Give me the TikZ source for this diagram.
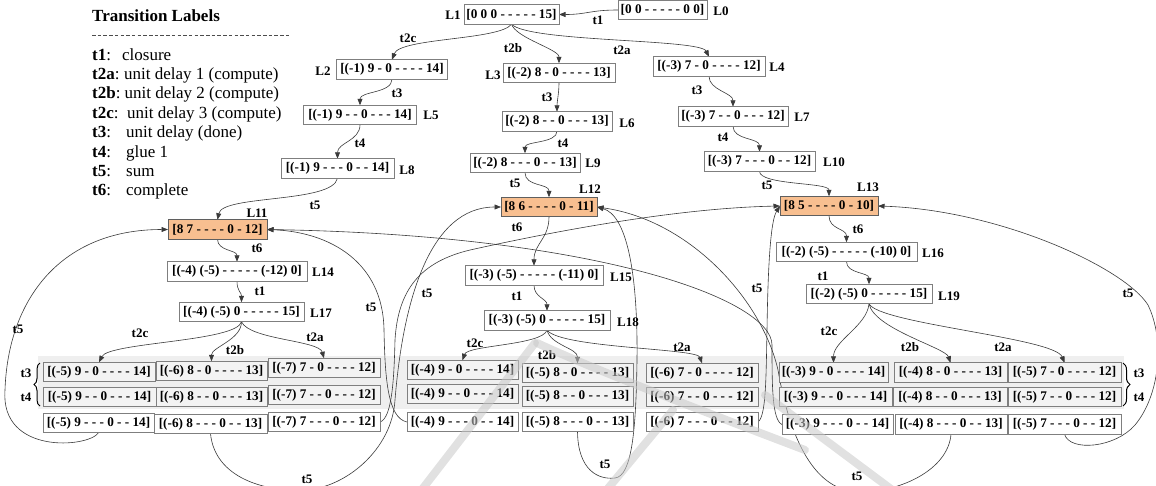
\documentclass[tikz,border=0pt]{standalone}
\usepackage{fontspec}
\setmainfont{Liberation Serif}
\usetikzlibrary{arrows.meta,decorations.pathreplacing}

\definecolor{boxline}{HTML}{7F7F7F}
\definecolor{peach}{HTML}{F8BF90}
\definecolor{bandgray}{HTML}{EFEFEF}
\definecolor{rowgray}{HTML}{F3F3F3}
\definecolor{wire}{HTML}{3A3A3A}
\definecolor{logo}{HTML}{C8C8C8}

\newcommand\boxfnt{\bfseries\fontsize{13.2}{15}\selectfont}
\newcommand\tagfnt{\bfseries\fontsize{13}{15}\selectfont}
\newcommand\legfnt{\fontsize{17}{20}\selectfont}
% state vectors of the three unit-delay stages
\newcommand\stA[3]{[(#1) #2 - 0 - - - - #3]}
\newcommand\stB[3]{[(#1) #2 - - 0 - - - #3]}
\newcommand\stC[3]{[(#1) #2 - - - 0 - - #3]}

\pgfdeclarelayer{back}
\pgfdeclarelayer{mid}
\pgfsetlayers{back,mid,main}

\begin{document}
\begin{tikzpicture}[x=1pt,y=-1pt,
  state/.style={draw=boxline,line width=0.9pt,fill=white,minimum height=19.5pt,
                inner sep=0pt,outer sep=0pt,font=\boxfnt},
  hot/.style={state,fill=peach,draw=boxline!75!black},
  inner/.style={state,fill=rowgray},
  tag/.style={font=\tagfnt,inner sep=0pt},
  wire/.style={draw=wire,line width=0.6pt,-{Triangle[length=6.5pt,width=5pt]}},
  legk/.style={anchor=base west,inner sep=0pt,font=\legfnt},
]
\useasboundingbox (0,0) rectangle (1156,485);

% ---------------- legend ----------------
\node[anchor=base west,inner sep=0pt,font=\bfseries\fontsize{17}{20}\selectfont] (ttl) at (92,21) {Transition Labels};
\draw[black!70,line width=0.9pt,dash pattern=on 3.5pt off 2.2pt] (92,35) -- (291,35);
\node[legk] (k1) at (92,60)    {\textbf{t1}:};   \node[legk] (d1) at (122,60)    {closure};
\node[legk] (k2) at (92,79.4)  {\textbf{t2a}:};  \node[legk] (d2) at (124,79.4)  {unit delay 1 (compute)};
\node[legk] (k3) at (92,98.8)  {\textbf{t2b}:};  \node[legk] (d3) at (124.5,98.8) {unit delay 2 (compute)};
\node[legk] (k4) at (92,118.2) {\textbf{t2c}:};  \node[legk] (d4) at (127,118.2) {unit delay 3 (compute)};
\node[legk] (k5) at (92,137.6) {\textbf{t3}:};   \node[legk] (d5) at (126,137.6) {unit delay (done)};
\node[legk] (k6) at (92,157)   {\textbf{t4}:};   \node[legk] (d6) at (126,157)   {glue 1};
\node[legk] (k7) at (92,176.4) {\textbf{t5}:};   \node[legk] (d7) at (126,176.4) {sum};
\node[legk] (k8) at (92,195.8) {\textbf{t6}:};   \node[legk] (d8) at (126,195.8) {complete};

% ---------------- shaded band of the unit-delay stages ----------------
\begin{pgfonlayer}{back}
  \fill[bandgray] (38,356) rectangle (1124,409);
\end{pgfonlayer}

% ---------------- states ----------------
\node[state,minimum width=89]  (L0)  at (662.5,10)   {[0 0 - - - - - 0 0]};
\node[state,minimum width=95]  (L1)  at (511.5,14.5) {[0 0 0 - - - - - 15]};
\node[state,minimum width=111] (L2)  at (392,69.5)   {\stA{-1}{9}{14}};
\node[state,minimum width=112] (L3)  at (559,73)     {\stA{-2}{8}{13}};
\node[state,minimum width=112] (L4)  at (709,66.5)   {\stA{-3}{7}{12}};
\node[state,minimum width=113] (L5)  at (360,115)    {\stB{-1}{9}{14}};
\node[state,minimum width=110] (L6)  at (557,121.5)  {\stB{-2}{8}{13}};
\node[state,minimum width=110] (L7)  at (733,116.5)  {\stB{-3}{7}{12}};
\node[state,minimum width=113] (L8)  at (337.5,168.5) {\stC{-1}{9}{14}};
\node[state,minimum width=110] (L9)  at (525,163)    {\stC{-2}{8}{13}};
\node[state,minimum width=111] (L10) at (759.5,161.5) {\stC{-3}{7}{12}};
\node[hot,minimum width=99]    (L11) at (217.5,229.5) {[8 7 - - - - 0 - 12]};
\node[hot,minimum width=96]    (L12) at (549,207)    {[8 6 - - - - 0 - 11]};
\node[hot,minimum width=98]    (L13) at (829,206)    {[8 5 - - - - 0 - 10]};
\node[state,minimum width=140] (L14) at (237,271.5)  {[(-4) (-5) - - - - - (-12) 0]};
\node[state,minimum width=138] (L15) at (534,275.5)  {[(-3) (-5) - - - - - (-11) 0]};
\node[state,minimum width=141] (L16) at (846.5,252)  {[(-2) (-5) - - - - - (-10) 0]};
\node[state,minimum width=125] (L17) at (241.5,312)  {[(-4) (-5) 0 - - - - - 15]};
\node[state,minimum width=126] (L18) at (547,320.5)  {[(-3) (-5) 0 - - - - - 15]};
\node[state,minimum width=126] (L19) at (869,294)    {[(-2) (-5) 0 - - - - - 15]};

% state names
\node[tag] (nL0)  at (721,11)  {L0};
\node[tag] (nL1)  at (453,15)  {L1};
\node[tag] (nL2)  at (323,71)  {L2};
\node[tag] (nL3)  at (493,75)  {L3};
\node[tag] (nL4)  at (777,67)  {L4};
\node[tag] (nL5)  at (431,115) {L5};
\node[tag] (nL6)  at (627,123) {L6};
\node[tag] (nL7)  at (802,117) {L7};
\node[tag] (nL8)  at (407,170) {L8};
\node[tag] (nL9)  at (593,163) {L9};
\node[tag] (nL10) at (834,162) {L10};
\node[tag] (nL11) at (257,213) {L11};
\node[tag] (nL12) at (590,189) {L12};
\node[tag] (nL13) at (868,187) {L13};
\node[tag] (nL14) at (323,272) {L14};
\node[tag] (nL15) at (621,277) {L15};
\node[tag] (nL16) at (933,253) {L16};
\node[tag] (nL17) at (321,313) {L17};
\node[tag] (nL18) at (628,322) {L18};
\node[tag] (nL19) at (949,296) {L19};

% ---------------- left group ----------------
\node[inner,minimum width=112] (la1) at (99,372)    {\stA{-5}{9}{14}};
\node[inner,minimum width=111] (lb1) at (211.5,371) {\stA{-6}{8}{13}};
\node[inner,minimum width=112] (lc1) at (324,368)   {\stA{-7}{7}{12}};
\node[inner,minimum width=113] (la2) at (99.5,397)  {\stB{-5}{9}{14}};
\node[inner,minimum width=111] (lb2) at (211.5,397) {\stB{-6}{8}{13}};
\node[inner,minimum width=112] (lc2) at (324,395)   {\stB{-7}{7}{12}};
\node[state,minimum width=111] (la3) at (98.5,423)  {\stC{-5}{9}{14}};
\node[state,minimum width=113] (lb3) at (210.5,424) {\stC{-6}{8}{13}};
\node[state,minimum width=112] (lc3) at (324,422)   {\stC{-7}{7}{12}};

% ---------------- middle group ----------------
\node[inner,minimum width=111] (ma1) at (462.5,370) {\stA{-4}{9}{14}};
\node[inner,minimum width=111] (mb1) at (577.5,373) {\stA{-5}{8}{13}};
\node[inner,minimum width=112] (mc1) at (702,373)   {\stA{-6}{7}{12}};
\node[inner,minimum width=111] (ma2) at (462.5,394) {\stB{-4}{9}{14}};
\node[inner,minimum width=111] (mb2) at (577.5,396.5) {\stB{-5}{8}{13}};
\node[inner,minimum width=112] (mc2) at (702,397)   {\stB{-6}{7}{12}};
\node[state,minimum width=111] (ma3) at (462.5,422) {\stC{-4}{9}{14}};
\node[state,minimum width=111] (mb3) at (577.5,422) {\stC{-5}{8}{13}};
\node[state,minimum width=112] (mc3) at (702,422)   {\stC{-6}{7}{12}};

% ---------------- right group ----------------
\node[inner,minimum width=109] (ra1) at (833.5,372.5) {\stA{-3}{9}{14}};
\node[inner,minimum width=113] (rb1) at (950.5,372.5) {\stA{-4}{8}{13}};
\node[inner,minimum width=113] (rc1) at (1064.5,372.5) {\stA{-5}{7}{12}};
\node[inner,minimum width=113] (ra2) at (835.5,397)   {\stB{-3}{9}{14}};
\node[inner,minimum width=114] (rb2) at (950,397)     {\stB{-4}{8}{13}};
\node[inner,minimum width=113] (rc2) at (1064.5,397)  {\stB{-5}{7}{12}};
\node[state,minimum width=111] (ra3) at (837.5,424.5) {\stC{-3}{9}{14}};
\node[state,minimum width=112] (rb3) at (951,424.5)   {\stC{-4}{8}{13}};
\node[state,minimum width=113] (rc3) at (1064.5,424.5) {\stC{-5}{7}{12}};

% braces grouping the t3 / t4 rows
\draw[decorate,decoration={brace,amplitude=6pt},line width=1pt] (40,406) -- (40,363);
\draw[decorate,decoration={brace,amplitude=7pt},line width=1pt] (1123,363) -- (1123,406);
\node[tag] (bl3) at (26,373)   {t3};
\node[tag] (bl4) at (26,397)   {t4};
\node[tag] (br3) at (1139,373) {t3};
\node[tag] (br4) at (1139,397) {t4};

% ---------------- transitions ----------------
\begin{pgfonlayer}{mid}
\draw[wire] (L0.west) .. controls +(-28,0) and +(28,0) .. (L1.east);
\draw[wire] (L1.south) .. controls +(-12,16) and +(8,-22) .. (L2.north);
\draw[wire] (L1.south) .. controls +(5,14) and +(0,-14) .. (L3.north);
\draw[wire] (L1.south) .. controls +(18,18) and +(-9,-18) .. (L4.north);
\draw[wire] (L2.south) .. controls +(0,14) and +(0,-14) .. (L5.north);
\draw[wire] (L3.south) .. controls +(0,10) and +(0,-10) .. (L6.north);
\draw[wire] (L4.south) .. controls +(0,14) and +(0,-14) .. (L7.north);
\draw[wire] (L5.south) .. controls +(0,16) and +(0,-16) .. (L8.north);
\draw[wire] (L6.south) .. controls +(0,12) and +(0,-12) .. (L9.north);
\draw[wire] (L7.south) .. controls +(0,14) and +(0,-14) .. (L10.north);
\draw[wire] (L8.south) .. controls +(-5,25) and +(5,-25) .. (L11.north);
\draw[wire] (L9.south) .. controls +(0,14) and +(0,-14) .. (L12.north);
\draw[wire] (L10.south) .. controls +(0,14) and +(0,-14) .. (L13.north);
\draw[wire] (L11.south) .. controls +(0,12) and +(0,-12) .. (L14.north);
\draw[wire] (L14.south) .. controls +(0,10) and +(0,-10) .. (L17.north);
\draw[wire] (L12.south) .. controls +(0,22) and +(0,-22) .. (L15.north);
\draw[wire] (L15.south) .. controls +(0,12) and +(0,-12) .. (L18.north);
\draw[wire] (L13.south) .. controls +(0,14) and +(0,-14) .. (L16.north);
\draw[wire] (L16.south) .. controls +(0,12) and +(0,-12) .. (L19.north);

\draw[wire] (L17.south) .. controls +(-5,20) and +(10,-20) .. (la1.north);
\draw[wire] (L17.south) .. controls +(0,18) and +(0,-14) .. (lb1.north);
\draw[wire] (L17.south) .. controls +(8,18) and +(-5,-18) .. (lc1.north);
\draw[wire] (L18.south) .. controls +(-5,15) and +(5,-15) .. (ma1.north);
\draw[wire] (L18.south) .. controls +(4,15) and +(0,-15) .. (mb1.north);
\draw[wire] (L18.south) .. controls +(15,18) and +(-5,-15) .. (mc1.north);
\draw[wire] (L19.south) .. controls +(-2,22) and +(0,-22) .. (ra1.north);
\draw[wire] (L19.south) .. controls +(5,25) and +(-5,-15) .. (rb1.north);
\draw[wire] (L19.south) .. controls +(10,20) and +(-10,-25) .. (rc1.north);

% sums back to the completed states
\draw[wire] (la3.south) .. controls +(-10,15) and (0,455) .. (5,390)
            .. controls (8,300) and (60,229.5) .. (L11.west);
\draw[wire] (lb3.south) .. controls (215,478) and (265,492) .. (305,490)
            .. controls (345,488) and (392,450) .. (395,400)
            .. controls (403,300) and (430,207) .. (L12.west);
\draw[wire] (lc3.east) .. controls (392,418) and (394,380) .. (395,340)
            .. controls (398,290) and (420,262) .. (470,250)
            .. controls (560,230) and (680,208) .. (L13.west);
\draw[wire] (ma3.west) .. controls (388,418) and (385,380) .. (384,330)
            .. controls (383,262) and (330,232) .. (L11.east);
\draw[wire] (mb3.south) .. controls (578,470) and (598,480) .. (615,478)
            .. controls (632,476) and (636,430) .. (637,360)
            .. controls (638,270) and (626,215) .. (L12.east);
\draw[wire] (mc3.east) .. controls (766,416) and (766,380) .. (767,330)
            .. controls (768,260) and (771,220) .. (L13.west);
\draw[wire] (ra3.west) .. controls (772,420) and (772,385) .. (772,345)
            .. controls (772,300) and (600,235) .. (L11.east);
\draw[wire] (rb3.south) .. controls (948,470) and (900,492) .. (860,492)
            .. controls (815,492) and (790,440) .. (778,370)
            .. controls (762,300) and (690,220) .. (L12.east);
\draw[wire] (rc3.south) .. controls (1070,452) and (1115,448) .. (1135,425)
            .. controls (1160,395) and (1165,340) .. (1148,305)
            .. controls (1125,268) and (1000,210) .. (L13.east);
\end{pgfonlayer}

% transition names
\node[tag] (e1)  at (598,20)  {t1};
\node[tag] (e2)  at (408,38)  {t2c};
\node[tag] (e3)  at (513,48)  {t2b};
\node[tag] (e4)  at (622,50)  {t2a};
\node[tag] (e5)  at (397,93)  {t3};
\node[tag] (e6)  at (547,97)  {t3};
\node[tag] (e7)  at (697,90)  {t3};
\node[tag] (e8)  at (360,143) {t4};
\node[tag] (e9)  at (563,143) {t4};
\node[tag] (e10) at (723,137) {t4};
\node[tag] (e11) at (315,205) {t5};
\node[tag] (e12) at (515,183) {t5};
\node[tag] (e13) at (767,185) {t5};
\node[tag] (e14) at (257,248) {t6};
\node[tag] (e15) at (260,291) {t1};
\node[tag] (e16) at (517,227) {t6};
\node[tag] (e17) at (517,296) {t1};
\node[tag] (e18) at (858,229) {t6};
\node[tag] (e19) at (823,276) {t1};
\node[tag] (e20) at (140,333) {t2c};
\node[tag] (e21) at (235,350) {t2b};
\node[tag] (e22) at (315,337) {t2a};
\node[tag] (e23) at (475,343) {t2c};
\node[tag] (e24) at (547,355) {t2b};
\node[tag] (e25) at (682,347) {t2a};
\node[tag] (e26) at (829,331) {t2c};
\node[tag] (e27) at (910,347) {t2b};
\node[tag] (e28) at (1003,347) {t2a};
\node[tag] (e29) at (18,329)  {t5};
\node[tag] (e30) at (307,479) {t5};
\node[tag] (e31) at (427,293) {t5};
\node[tag] (e32) at (371,307) {t5};
\node[tag] (e33) at (605,464) {t5};
\node[tag] (e34) at (757,288) {t5};
\node[tag] (e35) at (857,476) {t5};
\node[tag] (e36) at (1128,293) {t5};

% faint publisher logo strokes across the lower half
\begin{scope}[logo,line width=8pt,line cap=round,opacity=0.55]
  \draw (535,343) -- (420,492);
  \draw (537,343) .. controls (600,372) and (700,410) .. (805,450);
  \draw (673,410) -- (605,492);
  \draw (765,395) -- (895,492);
\end{scope}
\end{tikzpicture}
\end{document}
